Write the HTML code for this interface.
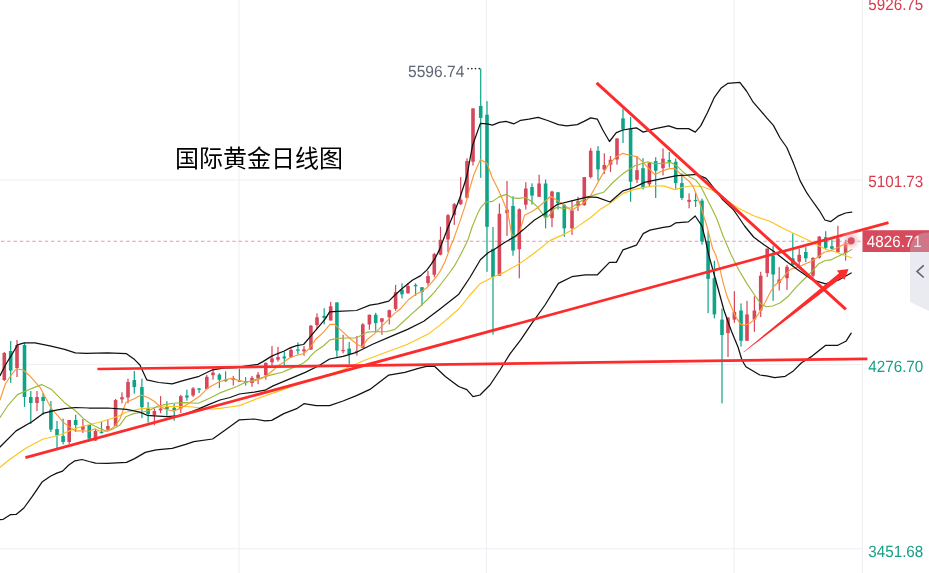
<!DOCTYPE html>
<html><head><meta charset="utf-8"><title>国际黄金日线图</title>
<style>
html,body{margin:0;padding:0;background:#fff;}
body{width:929px;height:573px;overflow:hidden;position:relative;}
svg{position:absolute;left:0;top:0;}
.ax{font-family:"Liberation Sans","Noto Sans CJK SC",sans-serif;font-size:16.3px;text-rendering:geometricPrecision;}
.title{font-family:"Liberation Sans","Noto Sans CJK SC",sans-serif;font-size:24px;fill:#000;font-weight:400;}
</style></head><body>
<svg width="929" height="573" viewBox="0 0 929 573">
<defs>
<radialGradient id="glow"><stop offset="0" stop-color="#e07784" stop-opacity="0.6"/><stop offset="0.55" stop-color="#eeb0b9" stop-opacity="0.45"/><stop offset="1" stop-color="#fbe6e9" stop-opacity="0"/></radialGradient>
</defs>
<rect width="929" height="573" fill="#fff"/>
<g stroke="#eceef2" stroke-width="1"><line x1="0" y1="180.0" x2="862" y2="180.0"/><line x1="0" y1="364.6" x2="862" y2="364.6"/><line x1="0" y1="548.7" x2="862" y2="548.7"/><line x1="239.0" y1="0" x2="239.0" y2="573"/><line x1="486.4" y1="0" x2="486.4" y2="573"/><line x1="734.0" y1="0" x2="734.0" y2="573"/><line x1="862.5" y1="0" x2="862.5" y2="573"/></g>
<line x1="1" y1="241.3" x2="862" y2="241.3" stroke="#e79ba6" stroke-width="1.1" stroke-dasharray="3.5 2.75"/>
<g shape-rendering="auto"><rect x="3.70" y="352.0" width="1.2" height="29.0" fill="#d6475a"/><rect x="2.50" y="353.0" width="3.6" height="27.0" fill="#d6475a"/><rect x="10.10" y="341.0" width="1.2" height="42.0" fill="#0fa388"/><rect x="8.90" y="351.0" width="3.6" height="19.5" fill="#0fa388"/><rect x="16.40" y="340.0" width="1.2" height="37.0" fill="#d6475a"/><rect x="15.20" y="345.0" width="3.6" height="23.0" fill="#d6475a"/><rect x="23.90" y="343.0" width="1.2" height="64.0" fill="#0fa388"/><rect x="22.70" y="345.0" width="3.6" height="52.0" fill="#0fa388"/><rect x="30.20" y="391.0" width="1.2" height="33.0" fill="#0fa388"/><rect x="29.00" y="397.0" width="3.6" height="6.0" fill="#0fa388"/><rect x="36.40" y="391.0" width="1.2" height="20.0" fill="#d6475a"/><rect x="35.20" y="397.0" width="3.6" height="6.0" fill="#d6475a"/><rect x="42.50" y="393.0" width="1.2" height="22.0" fill="#0fa388"/><rect x="41.30" y="397.0" width="3.6" height="4.0" fill="#0fa388"/><rect x="50.30" y="401.0" width="1.2" height="31.0" fill="#0fa388"/><rect x="49.10" y="409.5" width="3.6" height="20.1" fill="#0fa388"/><rect x="56.40" y="421.0" width="1.2" height="29.0" fill="#0fa388"/><rect x="55.20" y="429.0" width="3.6" height="6.4" fill="#0fa388"/><rect x="62.50" y="418.6" width="1.2" height="25.8" fill="#0fa388"/><rect x="61.30" y="436.0" width="3.6" height="6.0" fill="#0fa388"/><rect x="68.60" y="420.0" width="1.2" height="24.0" fill="#d6475a"/><rect x="67.40" y="420.0" width="3.6" height="22.0" fill="#d6475a"/><rect x="75.10" y="414.7" width="1.2" height="17.3" fill="#0fa388"/><rect x="73.90" y="420.0" width="3.6" height="5.0" fill="#0fa388"/><rect x="82.30" y="419.0" width="1.2" height="14.0" fill="#d6475a"/><rect x="81.10" y="426.0" width="3.6" height="3.6" fill="#d6475a"/><rect x="88.60" y="425.0" width="1.2" height="17.0" fill="#0fa388"/><rect x="87.40" y="425.0" width="3.6" height="13.6" fill="#0fa388"/><rect x="94.90" y="429.0" width="1.2" height="12.0" fill="#d6475a"/><rect x="93.70" y="431.0" width="3.6" height="9.5" fill="#d6475a"/><rect x="100.90" y="421.6" width="1.2" height="11.8" fill="#0fa388"/><rect x="99.70" y="431.8" width="3.6" height="1.4" fill="#0fa388"/><rect x="107.30" y="420.0" width="1.2" height="10.0" fill="#d6475a"/><rect x="106.10" y="426.0" width="3.6" height="3.6" fill="#d6475a"/><rect x="115.00" y="399.0" width="1.2" height="27.0" fill="#d6475a"/><rect x="113.80" y="400.0" width="3.6" height="25.9" fill="#d6475a"/><rect x="121.40" y="392.3" width="1.2" height="11.0" fill="#d6475a"/><rect x="120.20" y="397.2" width="3.6" height="2.2" fill="#d6475a"/><rect x="127.40" y="378.7" width="1.2" height="24.6" fill="#d6475a"/><rect x="126.20" y="382.0" width="3.6" height="15.5" fill="#d6475a"/><rect x="133.70" y="371.0" width="1.2" height="22.6" fill="#0fa388"/><rect x="132.50" y="380.0" width="3.6" height="7.1" fill="#0fa388"/><rect x="141.30" y="378.7" width="1.2" height="39.4" fill="#0fa388"/><rect x="140.10" y="387.1" width="3.6" height="20.0" fill="#0fa388"/><rect x="147.50" y="402.0" width="1.2" height="20.6" fill="#0fa388"/><rect x="146.30" y="408.4" width="3.6" height="5.8" fill="#0fa388"/><rect x="153.80" y="408.4" width="1.2" height="16.8" fill="#d6475a"/><rect x="152.60" y="411.0" width="3.6" height="3.9" fill="#d6475a"/><rect x="160.00" y="396.1" width="1.2" height="17.1" fill="#d6475a"/><rect x="158.80" y="408.6" width="3.6" height="1.8" fill="#d6475a"/><rect x="166.30" y="401.2" width="1.2" height="14.6" fill="#0fa388"/><rect x="165.10" y="407.0" width="3.6" height="2.2" fill="#0fa388"/><rect x="173.60" y="404.0" width="1.2" height="16.7" fill="#0fa388"/><rect x="172.40" y="407.8" width="3.6" height="2.6" fill="#0fa388"/><rect x="180.20" y="394.9" width="1.2" height="18.1" fill="#d6475a"/><rect x="179.00" y="396.2" width="3.6" height="12.2" fill="#d6475a"/><rect x="186.30" y="389.7" width="1.2" height="11.0" fill="#0fa388"/><rect x="185.10" y="395.5" width="3.6" height="2.0" fill="#0fa388"/><rect x="192.50" y="387.1" width="1.2" height="9.7" fill="#d6475a"/><rect x="191.30" y="388.4" width="3.6" height="7.1" fill="#d6475a"/><rect x="198.50" y="388.0" width="1.2" height="5.0" fill="#0fa388"/><rect x="197.30" y="388.4" width="3.6" height="1.3" fill="#0fa388"/><rect x="206.20" y="374.9" width="1.2" height="14.8" fill="#d6475a"/><rect x="205.00" y="376.8" width="3.6" height="12.2" fill="#d6475a"/><rect x="212.40" y="368.7" width="1.2" height="11.0" fill="#d6475a"/><rect x="211.20" y="372.6" width="3.6" height="2.6" fill="#d6475a"/><rect x="218.80" y="373.3" width="1.2" height="14.8" fill="#0fa388"/><rect x="217.60" y="374.6" width="3.6" height="5.1" fill="#0fa388"/><rect x="225.00" y="371.3" width="1.2" height="10.4" fill="#0fa388"/><rect x="223.80" y="379.6" width="3.6" height="1.7" fill="#0fa388"/><rect x="232.70" y="375.9" width="1.2" height="9.6" fill="#d6475a"/><rect x="231.50" y="378.0" width="3.6" height="2.0" fill="#d6475a"/><rect x="238.80" y="368.7" width="1.2" height="13.0" fill="#0fa388"/><rect x="237.60" y="380.4" width="3.6" height="1.3" fill="#0fa388"/><rect x="245.00" y="377.1" width="1.2" height="8.4" fill="#0fa388"/><rect x="243.80" y="381.0" width="3.6" height="1.8" fill="#0fa388"/><rect x="251.40" y="375.9" width="1.2" height="10.9" fill="#d6475a"/><rect x="250.20" y="377.8" width="3.6" height="5.2" fill="#d6475a"/><rect x="257.50" y="372.0" width="1.2" height="12.2" fill="#d6475a"/><rect x="256.30" y="374.6" width="3.6" height="3.8" fill="#d6475a"/><rect x="265.20" y="362.3" width="1.2" height="17.4" fill="#d6475a"/><rect x="264.00" y="362.9" width="3.6" height="12.3" fill="#d6475a"/><rect x="271.40" y="346.1" width="1.2" height="19.4" fill="#d6475a"/><rect x="270.20" y="358.4" width="3.6" height="3.9" fill="#d6475a"/><rect x="277.40" y="346.8" width="1.2" height="14.8" fill="#d6475a"/><rect x="276.20" y="357.1" width="3.6" height="2.6" fill="#d6475a"/><rect x="283.70" y="351.3" width="1.2" height="13.6" fill="#0fa388"/><rect x="282.50" y="356.5" width="3.6" height="1.9" fill="#0fa388"/><rect x="290.40" y="348.1" width="1.2" height="9.7" fill="#d6475a"/><rect x="289.20" y="350.0" width="3.6" height="7.1" fill="#d6475a"/><rect x="297.30" y="342.3" width="1.2" height="12.2" fill="#0fa388"/><rect x="296.10" y="349.4" width="3.6" height="1.3" fill="#0fa388"/><rect x="303.40" y="346.1" width="1.2" height="9.7" fill="#d6475a"/><rect x="302.20" y="349.4" width="3.6" height="1.9" fill="#d6475a"/><rect x="310.30" y="325.0" width="1.2" height="24.6" fill="#d6475a"/><rect x="309.10" y="325.7" width="3.6" height="23.9" fill="#d6475a"/><rect x="316.40" y="313.4" width="1.2" height="15.5" fill="#d6475a"/><rect x="315.20" y="317.3" width="3.6" height="7.7" fill="#d6475a"/><rect x="323.60" y="308.2" width="1.2" height="16.2" fill="#0fa388"/><rect x="322.40" y="316.0" width="3.6" height="1.9" fill="#0fa388"/><rect x="330.10" y="301.8" width="1.2" height="18.7" fill="#d6475a"/><rect x="328.90" y="306.3" width="3.6" height="14.2" fill="#d6475a"/><rect x="336.30" y="302.4" width="1.2" height="54.4" fill="#0fa388"/><rect x="335.10" y="302.4" width="3.6" height="48.2" fill="#0fa388"/><rect x="342.50" y="334.8" width="1.2" height="18.5" fill="#d6475a"/><rect x="341.30" y="350.0" width="3.6" height="1.2" fill="#d6475a"/><rect x="348.60" y="341.9" width="1.2" height="22.4" fill="#0fa388"/><rect x="347.40" y="348.6" width="3.6" height="5.5" fill="#0fa388"/><rect x="356.30" y="336.0" width="1.2" height="19.6" fill="#d6475a"/><rect x="355.10" y="350.9" width="3.6" height="1.2" fill="#d6475a"/><rect x="362.20" y="323.1" width="1.2" height="25.1" fill="#d6475a"/><rect x="361.00" y="324.4" width="3.6" height="23.4" fill="#d6475a"/><rect x="368.80" y="314.7" width="1.2" height="15.0" fill="#d6475a"/><rect x="367.60" y="314.7" width="3.6" height="9.7" fill="#d6475a"/><rect x="375.10" y="312.8" width="1.2" height="18.1" fill="#0fa388"/><rect x="373.90" y="314.7" width="3.6" height="8.4" fill="#0fa388"/><rect x="381.30" y="318.3" width="1.2" height="16.5" fill="#d6475a"/><rect x="380.10" y="318.3" width="3.6" height="3.5" fill="#d6475a"/><rect x="388.70" y="309.5" width="1.2" height="14.9" fill="#d6475a"/><rect x="387.50" y="310.2" width="3.6" height="7.1" fill="#d6475a"/><rect x="395.00" y="284.9" width="1.2" height="25.9" fill="#d6475a"/><rect x="393.80" y="292.2" width="3.6" height="16.7" fill="#d6475a"/><rect x="401.40" y="283.3" width="1.2" height="15.2" fill="#0fa388"/><rect x="400.20" y="289.8" width="3.6" height="4.5" fill="#0fa388"/><rect x="407.40" y="283.0" width="1.2" height="10.6" fill="#d6475a"/><rect x="406.20" y="286.0" width="3.6" height="7.3" fill="#d6475a"/><rect x="415.00" y="283.3" width="1.2" height="12.4" fill="#0fa388"/><rect x="413.80" y="284.9" width="3.6" height="1.4" fill="#0fa388"/><rect x="421.40" y="287.2" width="1.2" height="18.3" fill="#0fa388"/><rect x="420.20" y="287.2" width="3.6" height="4.7" fill="#0fa388"/><rect x="427.40" y="270.9" width="1.2" height="14.8" fill="#d6475a"/><rect x="426.20" y="276.0" width="3.6" height="7.1" fill="#d6475a"/><rect x="433.70" y="252.8" width="1.2" height="24.5" fill="#d6475a"/><rect x="432.50" y="254.1" width="3.6" height="20.6" fill="#d6475a"/><rect x="439.90" y="226.8" width="1.2" height="28.6" fill="#d6475a"/><rect x="438.70" y="239.8" width="3.6" height="14.9" fill="#d6475a"/><rect x="447.40" y="214.0" width="1.2" height="38.1" fill="#d6475a"/><rect x="446.20" y="215.2" width="3.6" height="24.3" fill="#d6475a"/><rect x="453.70" y="203.0" width="1.2" height="21.9" fill="#d6475a"/><rect x="452.50" y="204.2" width="3.6" height="11.0" fill="#d6475a"/><rect x="460.10" y="177.1" width="1.2" height="27.8" fill="#d6475a"/><rect x="458.90" y="199.7" width="3.6" height="4.5" fill="#d6475a"/><rect x="466.40" y="158.4" width="1.2" height="40.0" fill="#d6475a"/><rect x="465.20" y="161.0" width="3.6" height="36.8" fill="#d6475a"/><rect x="472.40" y="108.4" width="1.2" height="57.1" fill="#d6475a"/><rect x="471.20" y="108.4" width="3.6" height="53.3" fill="#d6475a"/><rect x="480.10" y="68.4" width="1.2" height="109.4" fill="#0fa388"/><rect x="478.90" y="105.9" width="3.6" height="12.0" fill="#0fa388"/><rect x="486.40" y="101.1" width="1.2" height="170.7" fill="#0fa388"/><rect x="485.20" y="114.7" width="3.6" height="112.1" fill="#0fa388"/><rect x="492.40" y="227.0" width="1.2" height="107.6" fill="#0fa388"/><rect x="491.20" y="248.9" width="3.6" height="28.1" fill="#0fa388"/><rect x="498.80" y="203.6" width="1.2" height="72.1" fill="#d6475a"/><rect x="497.60" y="213.8" width="3.6" height="61.9" fill="#d6475a"/><rect x="506.40" y="181.0" width="1.2" height="54.9" fill="#d6475a"/><rect x="505.20" y="209.7" width="3.6" height="3.5" fill="#d6475a"/><rect x="512.40" y="196.2" width="1.2" height="59.5" fill="#0fa388"/><rect x="511.20" y="206.0" width="3.6" height="44.5" fill="#0fa388"/><rect x="518.70" y="208.4" width="1.2" height="69.9" fill="#d6475a"/><rect x="517.50" y="209.3" width="3.6" height="39.9" fill="#d6475a"/><rect x="525.20" y="182.2" width="1.2" height="27.3" fill="#d6475a"/><rect x="524.00" y="188.5" width="3.6" height="16.2" fill="#d6475a"/><rect x="531.40" y="183.3" width="1.2" height="21.2" fill="#0fa388"/><rect x="530.20" y="187.0" width="3.6" height="8.6" fill="#0fa388"/><rect x="538.50" y="174.7" width="1.2" height="22.3" fill="#d6475a"/><rect x="537.30" y="183.5" width="3.6" height="13.3" fill="#d6475a"/><rect x="545.00" y="179.6" width="1.2" height="48.8" fill="#0fa388"/><rect x="543.80" y="183.5" width="3.6" height="34.0" fill="#0fa388"/><rect x="551.40" y="190.8" width="1.2" height="36.3" fill="#d6475a"/><rect x="550.20" y="191.5" width="3.6" height="26.6" fill="#d6475a"/><rect x="557.40" y="192.0" width="1.2" height="17.5" fill="#0fa388"/><rect x="556.20" y="192.3" width="3.6" height="10.9" fill="#0fa388"/><rect x="563.70" y="204.5" width="1.2" height="32.3" fill="#0fa388"/><rect x="562.50" y="204.7" width="3.6" height="23.7" fill="#0fa388"/><rect x="571.40" y="200.0" width="1.2" height="34.9" fill="#d6475a"/><rect x="570.20" y="210.4" width="3.6" height="18.0" fill="#d6475a"/><rect x="577.40" y="196.8" width="1.2" height="14.2" fill="#d6475a"/><rect x="576.20" y="201.3" width="3.6" height="4.5" fill="#d6475a"/><rect x="583.70" y="177.1" width="1.2" height="28.7" fill="#d6475a"/><rect x="582.50" y="177.1" width="3.6" height="28.1" fill="#d6475a"/><rect x="590.10" y="148.1" width="1.2" height="30.3" fill="#d6475a"/><rect x="588.90" y="150.7" width="3.6" height="26.4" fill="#d6475a"/><rect x="597.40" y="146.1" width="1.2" height="34.3" fill="#0fa388"/><rect x="596.20" y="150.7" width="3.6" height="18.7" fill="#0fa388"/><rect x="603.70" y="153.3" width="1.2" height="20.7" fill="#d6475a"/><rect x="602.50" y="165.0" width="3.6" height="4.5" fill="#d6475a"/><rect x="609.90" y="156.0" width="1.2" height="16.1" fill="#d6475a"/><rect x="608.70" y="159.8" width="3.6" height="4.8" fill="#d6475a"/><rect x="616.40" y="138.4" width="1.2" height="26.2" fill="#d6475a"/><rect x="615.20" y="138.4" width="3.6" height="21.1" fill="#d6475a"/><rect x="622.40" y="108.7" width="1.2" height="34.3" fill="#0fa388"/><rect x="621.20" y="118.4" width="3.6" height="11.0" fill="#0fa388"/><rect x="630.00" y="117.1" width="1.2" height="84.7" fill="#0fa388"/><rect x="628.80" y="128.7" width="3.6" height="53.0" fill="#0fa388"/><rect x="636.40" y="156.0" width="1.2" height="27.1" fill="#d6475a"/><rect x="635.20" y="170.1" width="3.6" height="9.7" fill="#d6475a"/><rect x="642.40" y="158.2" width="1.2" height="31.3" fill="#0fa388"/><rect x="641.20" y="168.2" width="3.6" height="20.0" fill="#0fa388"/><rect x="648.80" y="162.3" width="1.2" height="24.0" fill="#d6475a"/><rect x="647.60" y="162.7" width="3.6" height="21.6" fill="#d6475a"/><rect x="655.10" y="157.2" width="1.2" height="40.8" fill="#0fa388"/><rect x="653.90" y="161.1" width="3.6" height="9.7" fill="#0fa388"/><rect x="662.40" y="148.5" width="1.2" height="26.9" fill="#d6475a"/><rect x="661.20" y="158.6" width="3.6" height="9.6" fill="#d6475a"/><rect x="668.70" y="152.0" width="1.2" height="15.6" fill="#0fa388"/><rect x="667.50" y="160.0" width="3.6" height="1.8" fill="#0fa388"/><rect x="675.10" y="158.5" width="1.2" height="30.4" fill="#0fa388"/><rect x="673.90" y="161.8" width="3.6" height="21.3" fill="#0fa388"/><rect x="681.30" y="173.4" width="1.2" height="26.5" fill="#0fa388"/><rect x="680.10" y="183.1" width="3.6" height="14.9" fill="#0fa388"/><rect x="688.50" y="193.4" width="1.2" height="14.9" fill="#d6475a"/><rect x="687.30" y="199.9" width="3.6" height="1.9" fill="#d6475a"/><rect x="695.00" y="192.8" width="1.2" height="14.2" fill="#0fa388"/><rect x="693.80" y="199.9" width="3.6" height="1.3" fill="#0fa388"/><rect x="701.40" y="198.6" width="1.2" height="46.1" fill="#0fa388"/><rect x="700.20" y="200.6" width="3.6" height="40.9" fill="#0fa388"/><rect x="707.50" y="231.2" width="1.2" height="81.9" fill="#0fa388"/><rect x="706.30" y="240.9" width="3.6" height="38.0" fill="#0fa388"/><rect x="713.80" y="260.8" width="1.2" height="57.5" fill="#0fa388"/><rect x="712.60" y="278.2" width="3.6" height="36.2" fill="#0fa388"/><rect x="721.40" y="308.6" width="1.2" height="94.7" fill="#0fa388"/><rect x="720.20" y="319.6" width="3.6" height="15.4" fill="#0fa388"/><rect x="727.40" y="317.0" width="1.2" height="40.0" fill="#d6475a"/><rect x="726.20" y="317.6" width="3.6" height="15.5" fill="#d6475a"/><rect x="733.80" y="291.2" width="1.2" height="31.6" fill="#d6475a"/><rect x="732.60" y="311.8" width="3.6" height="7.8" fill="#d6475a"/><rect x="740.40" y="303.4" width="1.2" height="43.2" fill="#0fa388"/><rect x="739.20" y="310.5" width="3.6" height="30.3" fill="#0fa388"/><rect x="746.40" y="300.9" width="1.2" height="39.9" fill="#d6475a"/><rect x="745.20" y="314.4" width="3.6" height="26.4" fill="#d6475a"/><rect x="753.80" y="296.3" width="1.2" height="35.5" fill="#d6475a"/><rect x="752.60" y="310.5" width="3.6" height="9.1" fill="#d6475a"/><rect x="760.10" y="271.8" width="1.2" height="45.2" fill="#d6475a"/><rect x="758.90" y="275.7" width="3.6" height="34.8" fill="#d6475a"/><rect x="766.60" y="248.6" width="1.2" height="28.4" fill="#d6475a"/><rect x="765.40" y="248.6" width="3.6" height="24.5" fill="#d6475a"/><rect x="772.50" y="245.9" width="1.2" height="55.0" fill="#0fa388"/><rect x="771.30" y="255.6" width="3.6" height="18.9" fill="#0fa388"/><rect x="778.60" y="267.1" width="1.2" height="23.4" fill="#d6475a"/><rect x="777.40" y="279.5" width="3.6" height="3.3" fill="#d6475a"/><rect x="786.40" y="264.8" width="1.2" height="25.1" fill="#d6475a"/><rect x="785.20" y="266.8" width="3.6" height="11.4" fill="#d6475a"/><rect x="792.20" y="233.5" width="1.2" height="33.1" fill="#0fa388"/><rect x="791.00" y="258.3" width="3.6" height="6.5" fill="#0fa388"/><rect x="798.60" y="248.5" width="1.2" height="17.4" fill="#d6475a"/><rect x="797.40" y="254.8" width="3.6" height="6.9" fill="#d6475a"/><rect x="805.20" y="247.1" width="1.2" height="15.0" fill="#0fa388"/><rect x="804.00" y="252.0" width="3.6" height="6.3" fill="#0fa388"/><rect x="812.40" y="257.2" width="1.2" height="20.6" fill="#d6475a"/><rect x="811.20" y="257.9" width="3.6" height="17.8" fill="#d6475a"/><rect x="818.70" y="236.1" width="1.2" height="22.5" fill="#d6475a"/><rect x="817.50" y="236.6" width="3.6" height="21.0" fill="#d6475a"/><rect x="825.10" y="231.2" width="1.2" height="18.2" fill="#0fa388"/><rect x="823.90" y="237.2" width="3.6" height="10.6" fill="#0fa388"/><rect x="831.30" y="239.4" width="1.2" height="10.2" fill="#0fa388"/><rect x="830.10" y="246.2" width="3.6" height="2.6" fill="#0fa388"/><rect x="837.30" y="225.8" width="1.2" height="26.5" fill="#d6475a"/><rect x="836.10" y="238.3" width="3.6" height="13.9" fill="#d6475a"/><rect x="845.00" y="239.9" width="1.2" height="20.7" fill="#d6475a"/><rect x="843.80" y="242.5" width="3.6" height="10.5" fill="#d6475a"/></g>
<g fill="none" stroke-linejoin="round" stroke-linecap="round"><polyline points="0.0,467.2 10.3,459.0 25.8,448.3 42.6,439.2 60.7,434.7 72.3,429.6 82.7,426.3 98.2,422.5 111.1,418.8 120.0,415.5 125.8,412.3 138.7,409.1 151.7,407.8 164.6,406.8 177.5,406.2 190.4,406.8 203.3,408.4 212.4,409.1 220.0,408.4 231.4,406.7 239.4,405.6 256.9,398.8 275.7,392.1 294.6,385.4 310.7,380.0 318.8,377.8 343.0,369.8 364.6,360.3 386.1,352.3 407.6,344.2 429.1,333.4 440.0,325.1 458.8,309.0 469.6,295.5 480.4,283.4 493.8,276.7 504.6,272.1 518.0,264.6 531.5,255.2 550.3,240.4 563.8,234.4 577.2,226.9 590.7,217.5 600.0,209.6 610.3,203.1 623.2,193.4 633.6,189.6 642.6,187.6 655.5,185.7 664.6,186.1 674.9,189.6 684.0,187.0 693.0,185.7 703.3,187.0 712.4,190.2 720.0,195.4 726.5,200.2 738.1,207.9 753.6,215.7 770.4,221.5 783.3,228.6 800.0,236.3 811.1,241.5 816.5,244.8 826.3,249.6 834.9,251.8 843.6,255.0 851.7,257.7" stroke="#fcc419" stroke-width="1.15"/><polyline points="0.0,417.5 8.1,405.3 17.5,394.6 26.9,390.5 35.0,387.1 41.7,384.6 51.1,389.2 64.6,402.7 74.5,410.0 79.4,414.5 83.3,418.4 88.4,422.3 93.6,425.5 98.8,428.1 103.9,430.0 107.2,431.3 111.7,429.4 115.6,427.4 120.0,424.9 125.8,416.8 133.6,413.6 142.6,412.3 149.1,410.4 156.8,406.5 164.6,404.6 173.6,403.3 184.0,402.6 198.2,403.3 208.5,398.7 220.0,392.9 236.8,386.5 243.5,383.2 256.9,379.2 270.4,375.1 282.3,372.2 291.3,368.4 299.1,365.1 303.6,362.9 308.1,359.3 310.0,356.7 315.8,350.9 323.6,345.7 330.0,339.9 336.5,338.6 344.2,338.0 354.6,338.0 358.5,336.7 367.5,332.1 375.2,331.5 385.6,331.8 394.6,329.6 402.4,322.5 410.0,315.4 418.4,308.0 427.0,300.0 434.3,292.4 441.7,283.0 449.0,273.5 454.3,266.2 459.5,256.8 463.7,248.4 467.9,240.0 472.0,227.2 477.6,213.6 480.5,207.9 485.6,202.2 492.6,201.4 498.7,197.1 506.1,194.4 512.7,197.9 518.8,198.4 524.9,197.5 531.0,201.0 537.1,206.6 542.4,213.6 545.0,218.0 549.3,215.4 554.6,208.4 558.1,207.1 563.3,208.4 571.3,207.8 577.8,203.2 586.8,197.4 594.6,194.9 603.6,192.3 612.9,182.5 623.2,173.4 634.9,165.7 647.8,161.8 654.2,163.7 664.6,163.1 671.0,162.4 677.5,166.3 684.0,172.8 690.4,177.3 695.6,179.9 700.7,186.3 705.9,196.7 712.4,209.6 716.9,219.0 723.4,236.8 731.3,255.0 739.1,270.5 746.8,283.4 754.6,295.0 761.0,304.1 766.2,306.7 772.7,306.0 780.4,302.8 788.2,296.3 795.9,287.3 803.7,279.5 813.3,270.2 818.7,263.7 825.2,260.5 830.6,259.9 837.1,256.7 845.8,252.9 851.7,249.6" stroke="#9cba3a" stroke-width="1.15"/><polyline points="0.0,400.0 5.4,383.8 10.8,375.7 16.1,369.0 22.9,369.8 29.6,375.7 40.4,387.9 51.1,408.0 60.0,418.4 63.2,422.3 68.4,426.1 72.9,429.4 75.5,431.0 79.4,430.7 85.8,431.0 89.1,431.3 94.9,428.7 98.8,430.7 106.5,431.3 110.4,429.4 114.9,426.1 120.0,419.0 125.8,402.6 134.2,398.7 141.3,395.1 147.8,397.5 154.2,401.3 160.7,407.1 167.2,409.7 173.6,411.0 180.1,408.4 187.8,403.9 200.0,395.9 207.7,388.1 219.4,381.7 231.0,378.4 238.7,380.4 245.2,381.7 254.2,381.0 262.0,378.2 267.4,375.0 274.5,369.0 279.1,365.1 283.6,362.2 289.4,358.0 295.2,355.8 299.1,354.8 303.6,353.5 306.8,350.9 310.0,347.7 315.8,339.2 323.6,332.1 330.0,324.4 334.6,324.4 341.7,330.9 349.4,338.0 357.2,344.4 362.3,346.7 367.5,339.2 374.0,334.1 380.4,327.6 388.2,319.9 394.6,313.4 401.1,308.2 408.1,300.0 415.5,294.5 421.8,291.3 427.5,287.2 432.2,281.9 436.4,276.7 440.6,270.4 444.8,262.0 448.0,253.6 450.6,246.3 453.3,240.0 459.5,222.6 465.2,205.6 469.7,188.6 473.7,175.0 480.4,159.6 487.1,163.6 492.3,177.7 497.5,188.1 502.7,199.7 507.8,212.6 511.7,234.6 515.6,237.2 519.5,232.0 524.6,215.2 532.4,211.3 537.7,207.8 550.7,196.3 559.7,202.0 571.3,210.4 584.2,202.6 590.7,195.5 600.0,178.6 607.7,165.7 615.5,157.3 622.6,153.4 629.7,155.3 636.8,156.6 642.6,161.8 649.1,168.9 654.9,174.7 660.7,171.5 668.5,168.9 674.3,168.2 677.5,170.8 682.7,176.0 689.1,181.2 693.0,186.3 696.2,194.1 700.7,205.7 704.6,219.0 707.3,227.3 712.7,248.8 715.8,255.0 719.7,267.9 723.6,284.7 727.5,297.6 735.2,315.7 740.4,324.1 744.2,325.4 749.4,323.5 754.6,319.6 759.7,311.8 764.9,302.8 770.1,292.5 774.0,286.0 780.4,280.8 785.6,274.4 790.7,269.2 797.2,267.3 811.1,261.5 817.6,257.2 824.1,252.3 830.6,250.7 837.1,248.0 844.7,243.7 849.0,244.0 851.2,244.2" stroke="#fd9735" stroke-width="1.15"/><polyline points="0.0,375.7 5.4,365.0 12.1,354.2 17.5,344.8 24.2,342.9 35.0,342.9 51.1,346.1 64.6,349.4 75.3,352.9 86.1,353.4 107.6,352.9 126.5,353.7 134.6,359.6 139.9,365.0 146.7,379.8 158.8,382.5 172.2,383.8 183.0,380.6 199.1,376.3 212.6,369.8 223.4,368.2 236.8,367.7 243.5,366.3 257.8,364.4 262.9,361.6 271.3,356.4 277.1,353.8 284.2,351.0 290.1,347.9 296.5,345.6 303.6,344.5 310.7,336.1 318.8,326.7 325.5,318.6 329.6,311.9 337.6,311.4 356.5,310.5 369.9,305.2 378.0,303.8 388.8,301.1 394.2,295.7 402.2,288.5 412.3,280.3 420.7,275.6 427.0,269.9 431.2,264.1 435.4,257.8 439.6,249.4 443.0,240.5 448.1,227.2 453.8,213.6 459.5,198.8 464.0,185.2 466.9,176.0 472.5,145.5 480.4,123.4 487.1,123.8 492.5,125.1 499.2,122.4 505.9,121.4 514.0,123.8 520.7,120.3 528.8,119.2 538.2,117.3 547.6,120.5 558.4,124.6 566.5,125.9 577.2,124.6 584.0,121.4 590.7,117.9 597.4,119.2 602.8,130.0 609.5,141.5 616.3,132.7 623.0,130.0 631.1,128.6 636.4,127.8 643.2,132.1 655.3,128.6 668.7,125.9 676.8,128.6 688.6,128.6 695.3,132.1 700.7,125.9 707.5,112.5 714.2,97.7 720.9,88.3 727.6,83.4 739.8,82.3 746.5,91.0 753.2,102.2 759.9,109.8 766.7,117.9 773.4,125.4 780.1,138.0 786.8,147.5 793.6,163.6 800.3,181.1 807.0,193.2 810.3,198.0 819.5,210.8 824.9,220.0 830.8,221.6 837.9,216.2 845.5,213.0 851.7,212.1" stroke="#111" stroke-width="1.25"/><polyline points="0.0,447.0 16.1,430.9 32.3,421.5 43.1,413.4 53.8,410.7 64.6,408.6 75.3,407.5 88.8,408.0 107.6,408.0 126.5,409.4 139.9,412.1 147.1,415.3 154.2,415.8 167.2,416.6 177.5,415.8 187.8,413.0 198.2,409.1 208.5,404.6 220.0,400.0 230.0,397.5 239.4,394.0 254.2,392.1 265.0,390.2 273.1,385.9 289.2,379.2 305.3,372.4 318.8,365.7 329.6,359.0 343.0,356.3 356.5,352.3 372.6,344.2 391.5,336.1 407.6,329.4 423.8,321.3 440.0,309.0 458.8,294.2 469.6,278.0 480.4,259.7 488.4,252.5 493.8,249.8 504.6,242.5 515.3,236.3 523.4,229.6 534.2,220.2 545.0,213.5 557.1,204.5 572.6,200.7 588.1,196.8 597.2,197.4 610.1,202.0 623.0,190.8 633.5,187.7 644.5,182.4 663.4,178.4 676.8,175.7 687.3,175.2 696.7,174.4 706.1,178.4 716.9,191.9 722.6,199.5 733.0,209.2 738.5,217.0 744.6,226.0 753.6,237.0 758.8,240.9 764.0,244.7 774.3,251.8 785.9,260.9 793.7,266.7 798.8,270.5 812.2,279.8 825.7,283.8 839.1,279.8 851.2,273.0" stroke="#111" stroke-width="1.25"/><polyline points="0.0,519.6 3.2,519.3 10.3,514.7 16.1,514.4 23.9,508.0 32.3,496.3 42.0,482.1 50.4,476.3 56.8,473.1 62.6,471.1 68.5,465.3 74.9,460.8 82.0,459.5 89.1,461.5 95.6,463.1 107.2,463.4 126.5,462.4 134.6,458.6 145.3,452.4 156.1,449.8 172.2,448.4 185.7,444.4 193.8,441.7 212.6,439.0 226.0,429.6 239.4,419.8 254.2,419.0 265.0,420.9 271.7,420.4 283.8,413.6 297.3,408.3 304.0,403.7 316.1,405.6 329.6,405.6 343.0,401.0 356.5,395.6 369.9,389.4 388.8,375.1 404.9,372.4 418.4,368.4 426.4,366.3 434.5,366.3 445.3,376.5 458.7,386.5 466.8,389.7 473.0,396.7 480.0,395.0 490.0,385.0 500.0,370.0 510.0,353.9 520.7,339.9 531.5,323.8 545.0,305.0 558.4,283.4 571.9,276.7 585.3,274.8 597.4,274.8 609.5,262.4 616.3,262.4 623.0,249.8 636.4,245.2 643.2,233.6 649.9,230.1 663.4,227.4 670.1,226.4 675.5,222.9 688.4,221.9 695.2,216.0 701.9,225.9 705.5,240.0 708.7,255.0 716.0,281.0 723.9,310.0 728.8,324.0 731.7,331.8 738.1,347.3 742.0,360.2 745.9,366.7 759.8,375.0 766.5,375.8 774.6,377.6 785.3,376.3 793.4,370.9 801.5,362.8 812.2,356.1 825.7,345.3 837.8,345.3 845.9,341.3 851.2,333.2" stroke="#111" stroke-width="1.25"/></g>
<g stroke="#fd2c2c" stroke-width="3" fill="none"><line x1="97.4" y1="369" x2="867.4" y2="358.8" stroke-width="2.7"/><line x1="25.4" y1="457.7" x2="888.5" y2="222.7" stroke-width="2.75"/><line x1="596.6" y1="82.9" x2="845.9" y2="309.4"/></g>
<polygon points="743.8,352.3 842.3,277.2 844.4,279.9 848.5,269.0 836.9,270.5 839.0,273.2 743.4,351.9" fill="#fd2c2c"/>
<circle cx="851.2" cy="240.7" r="10.5" fill="url(#glow)"/><circle cx="851.2" cy="240.7" r="3.5" fill="#d9505f"/>
<text class="title" x="175" y="166.5">国际黄金日线图</text>
<text class="ax" textLength="56.3" lengthAdjust="spacingAndGlyphs" x="408" y="76.9" fill="#5f6675">5596.74</text>
<g fill="#2a2d36"><circle cx="468.1" cy="68.6" r="0.85"/><circle cx="471.8" cy="68.6" r="0.85"/><circle cx="475.5" cy="68.6" r="0.85"/><circle cx="479.3" cy="68.6" r="0.85"/></g>
<text class="ax" textLength="55" lengthAdjust="spacingAndGlyphs" x="868.3" y="10.4" fill="#d63b4e">5926.75</text>
<text class="ax" textLength="55" lengthAdjust="spacingAndGlyphs" x="868.3" y="186.7" fill="#d63b4e">5101.73</text>
<text class="ax" textLength="55" lengthAdjust="spacingAndGlyphs" x="868.3" y="371.8" fill="#16a086">4276.70</text>
<text class="ax" textLength="55" lengthAdjust="spacingAndGlyphs" x="868.3" y="556.8" fill="#16a086">3451.68</text>
<rect x="862.5" y="230.2" width="67" height="21.8" fill="#d64a5b"/>
<text class="ax" textLength="55" lengthAdjust="spacingAndGlyphs" x="866.8" y="246.9" fill="#fff">4826.71</text>
<path d="M910,302 L910,252 Q910,232.5 929,232.5 L929,311 Z" fill="#c5c7d6" fill-opacity="0.36"/>
<polyline points="923.7,265.3 917,271.4 923.7,277.5" fill="none" stroke="#5c6475" stroke-width="1.6"/>
</svg>
</body></html>
